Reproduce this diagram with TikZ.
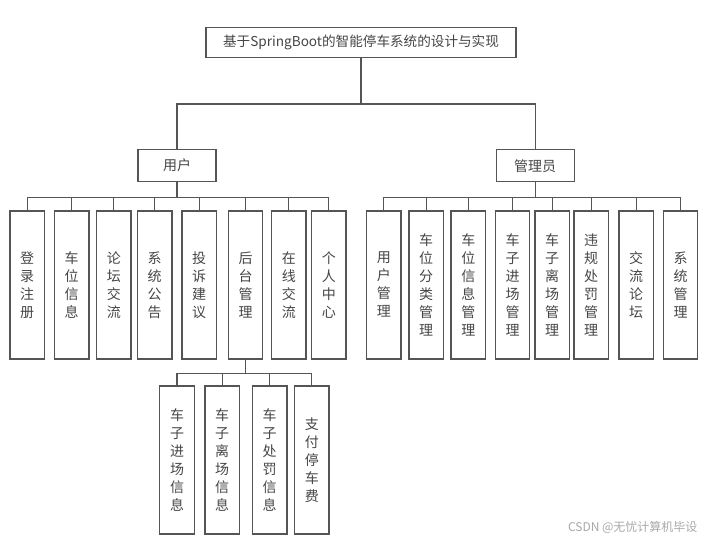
\documentclass[tikz,border=0pt]{standalone}
\usepackage{fontspec}
\setmainfont{Noto Sans CJK SC}
\usetikzlibrary{positioning}
\definecolor{linegray}{HTML}{555555}
\definecolor{textgray}{HTML}{454545}
\definecolor{markgray}{HTML}{A8A8A8}

\begin{document}
\begin{tikzpicture}
[x=1pt, y=-1pt,
% STYLES
% the title box on top
title/.style={rectangle, draw=linegray, line width=1.3pt, text=textgray, inner sep=0pt, minimum width=310pt, minimum height=30pt, font=\fontsize{13.6}{16}\selectfont},
% the two roles
role/.style={rectangle, draw=linegray, line width=1.3pt, text=textgray, inner sep=0pt, minimum width=78pt, minimum height=32pt, font=\fontsize{14}{17}\selectfont},
% the tall boxes with vertical text
leaf/.style={rectangle, draw=linegray, line width=1.3pt, text=textgray, inner sep=0pt, minimum width=34.5pt, minimum height=148pt, text width=16pt, align=center, font=\fontsize{14}{18}\selectfont},
link/.style={draw=linegray, line width=1.3pt}]

\useasboundingbox (0,0) rectangle (710,545);

% Draw title and roles
\node [title] (root) at (361,42.7) {基于SpringBoot的智能停车系统的设计与实现};
\node [role] (user) at (177,165.3) {用户};
\node [role] (admin) at (535.2,165.8) {管理员};

%%%%%%%%%%%%%%%
% User functions
\node [leaf] (u1) at (27.2,284.9) {登\\录\\注\\册};
\node [leaf] (u2) at (71.7,284.9) {车\\位\\信\\息};
\node [leaf] (u3) at (113.8,284.9) {论\\坛\\交\\流};
\node [leaf] (u4) at (154.7,284.9) {系\\统\\公\\告};
\node [leaf] (u5) at (199.2,284.9) {投\\诉\\建\\议};
\node [leaf] (u6) at (245.5,284.9) {后\\台\\管\\理};
\node [leaf] (u7) at (288.8,284.9) {在\\线\\交\\流};
\node [leaf] (u8) at (328.8,284.9) {个\\人\\中\\心};

% Back office
\node [leaf] (b1) at (177,460) {车\\子\\进\\场\\信\\息};
\node [leaf] (b2) at (222.2,460) {车\\子\\离\\场\\信\\息};
\node [leaf] (b3) at (269.7,460) {车\\子\\处\\罚\\信\\息};
\node [leaf] (b4) at (311.8,460) {支\\付\\停\\车\\费};

% Admin functions
\node [leaf] (a1) at (383.8,284.9) {用\\户\\管\\理};
\node [leaf] (a2) at (426.2,284.9) {车\\位\\分\\类\\管\\理};
\node [leaf] (a3) at (468.3,284.9) {车\\位\\信\\息\\管\\理};
\node [leaf] (a4) at (512.5,284.9) {车\\子\\进\\场\\管\\理};
\node [leaf] (a5) at (552.2,284.9) {车\\子\\离\\场\\管\\理};
\node [leaf] (a6) at (591.2,284.9) {违\\规\\处\\罚\\管\\理};
\node [leaf] (a7) at (636.2,284.9) {交\\流\\论\\坛};
\node [leaf] (a8) at (680.5,284.9) {系\\统\\管\\理};

% watermark
\node [text=markgray, font=\fontsize{12}{14}\selectfont, anchor=east] (mark) at (701,527) {CSDN @无忧计算机毕设};

%%%%%%%%%%%%%%%
% Draw the links
\draw [link] (root.south) -- ++(0,45.6) coordinate (rootbus);
\draw [link] (rootbus) -| (user.north);
\draw [link] (rootbus) -| (admin.north);

\draw [link] (user.south) -- ++(0,15.7) coordinate (userbus);
\foreach \n in {u1,u2,u3,u4,u5,u6,u7,u8}
  \draw [link] (userbus) -| (\n.north);

\draw [link] (admin.south) -- ++(0,14.9) coordinate (adminbus);
\foreach \n in {a1,a2,a3,a4,a5,a6,a7,a8}
  \draw [link] (adminbus) -| (\n.north);

\draw [link] (u6.south) -- ++(0,13.7) coordinate (backbus);
\foreach \n in {b1,b2,b3,b4}
  \draw [link] (backbus) -| (\n.north);

\end{tikzpicture}
\end{document}
